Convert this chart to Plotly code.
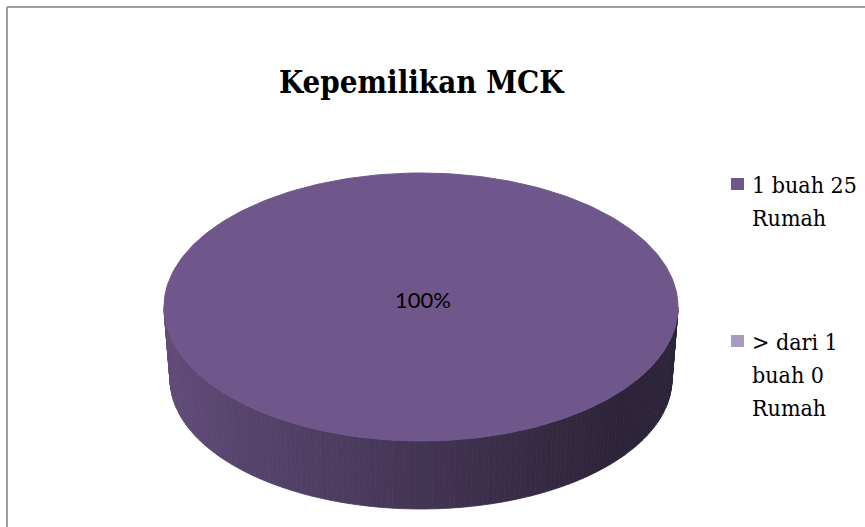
import textwrap
import numpy as np
import plotly.graph_objects as go

# Chart data
title = "Kepemilikan MCK"
categories = ["1 buah 25 Rumah", "> dari 1 buah 0 Rumah"]
values = [25, 0]
colors = [(111, 87, 139), (169, 155, 189)]

W, H = 865, 527
SERIF = "DejaVu Serif Condensed, DejaVu Serif, serif"

# 3D pie geometry (pixel space)
cx, cy = 421, 307
rx, ry = 257, 134
depth = 72
rx_b, ry_b = 251, 130  # slightly narrower base ellipse for perspective

total = sum(values)
fracs = [v / total for v in values]

# Slice angle ranges: start at 12 o'clock, run clockwise (screen y points down)
starts, ends = [], []
a = -np.pi / 2
for f in fracs:
    starts.append(a)
    a += f * 2 * np.pi
    ends.append(a)


def rgb(c, k=1.0):
    return "rgb({},{},{})".format(*[int(round(v * k)) for v in c])


def slice_at(theta):
    t = (theta - starts[0]) % (2 * np.pi) + starts[0]
    for i, (s, e) in enumerate(zip(starts, ends)):
        if s <= t <= e and fracs[i] > 0:
            return i
    return 0


fig = go.Figure()

# Side wall: front half of the ellipse, shaded from left to right
n_strips = 140
edges = np.linspace(np.pi, 0, n_strips + 1)
for j in range(n_strips):
    t0, t1 = edges[j], edges[j + 1]
    th = np.linspace(t0, t1, 6)
    xt = cx + rx * np.cos(th)
    yt = cy + ry * np.sin(th)
    xb = cx + rx_b * np.cos(th[::-1])
    yb = cy + depth + ry_b * np.sin(th[::-1])
    xm = np.cos((t0 + t1) / 2)  # -1 (left) .. 1 (right)
    pos = (xm + 1) / 2
    k = 0.86 - 0.46 * min(1.0, pos / 0.9)
    col = rgb(colors[slice_at((t0 + t1) / 2)], k)
    fig.add_trace(go.Scatter(
        x=np.concatenate([xt, xb, xt[:1]]),
        y=np.concatenate([yt, yb, yt[:1]]),
        mode="lines", fill="toself", fillcolor=col,
        line=dict(color=col, width=0.8), hoverinfo="skip", showlegend=False,
    ))

# Top faces of the slices
for i, (s, e) in enumerate(zip(starts, ends)):
    if fracs[i] <= 0:
        continue
    th = np.linspace(s, e, 361)
    xs = cx + rx * np.cos(th)
    ys = cy + ry * np.sin(th)
    if fracs[i] < 1:
        xs = np.concatenate([[cx], xs, [cx]])
        ys = np.concatenate([[cy], ys, [cy]])
    fig.add_trace(go.Scatter(
        x=xs, y=ys, mode="lines", fill="toself", fillcolor=rgb(colors[i]),
        line=dict(color=rgb(colors[i]), width=1), hoverinfo="skip",
        showlegend=False,
    ))

# Percentage labels
for i, (s, e) in enumerate(zip(starts, ends)):
    if fracs[i] <= 0:
        continue
    if fracs[i] >= 1:
        lx, ly = cx + 2, cy - 8
    else:
        m = (s + e) / 2
        lx, ly = cx + 0.6 * rx * np.cos(m), cy + 0.6 * ry * np.sin(m)
    fig.add_annotation(x=lx, y=ly, text=f"{fracs[i] * 100:.0f}%",
                       showarrow=False,
                       font=dict(family="Lato", size=22, color="black"))

# Title
fig.add_annotation(x=422, y=82, text=f"<b>{title}</b>", showarrow=False,
                   font=dict(family=SERIF, size=31, color="black"))

# Legend: swatch plus wrapped label, one annotation per line
legend_first_line = [185, 342]
line_gap = 33
for i, (cat, y0) in enumerate(zip(categories, legend_first_line)):
    fig.add_shape(type="rect", x0=731, x1=744, y0=y0 - 7, y1=y0 + 5,
                  fillcolor=rgb(colors[i]), line=dict(width=0))
    for k, line in enumerate(textwrap.wrap(cat, 9)):
        fig.add_annotation(x=750, y=y0 + k * line_gap, xanchor="left",
                           yanchor="middle", showarrow=False, text=line,
                           font=dict(family=SERIF, size=23, color="black"))

# Chart frame
fig.add_shape(type="line", x0=7, x1=7, y0=7, y1=H + 5,
              line=dict(color="#9c9c9c", width=2))
fig.add_shape(type="line", x0=7, x1=W + 5, y0=7, y1=7,
              line=dict(color="#9c9c9c", width=2))

fig.update_layout(
    width=W, height=H,
    margin=dict(l=0, r=0, t=0, b=0),
    paper_bgcolor="white", plot_bgcolor="white",
    showlegend=False,
    xaxis=dict(range=[0, W], visible=False, fixedrange=True),
    yaxis=dict(range=[H, 0], visible=False, fixedrange=True),
)

fig.write_html("out.html")
